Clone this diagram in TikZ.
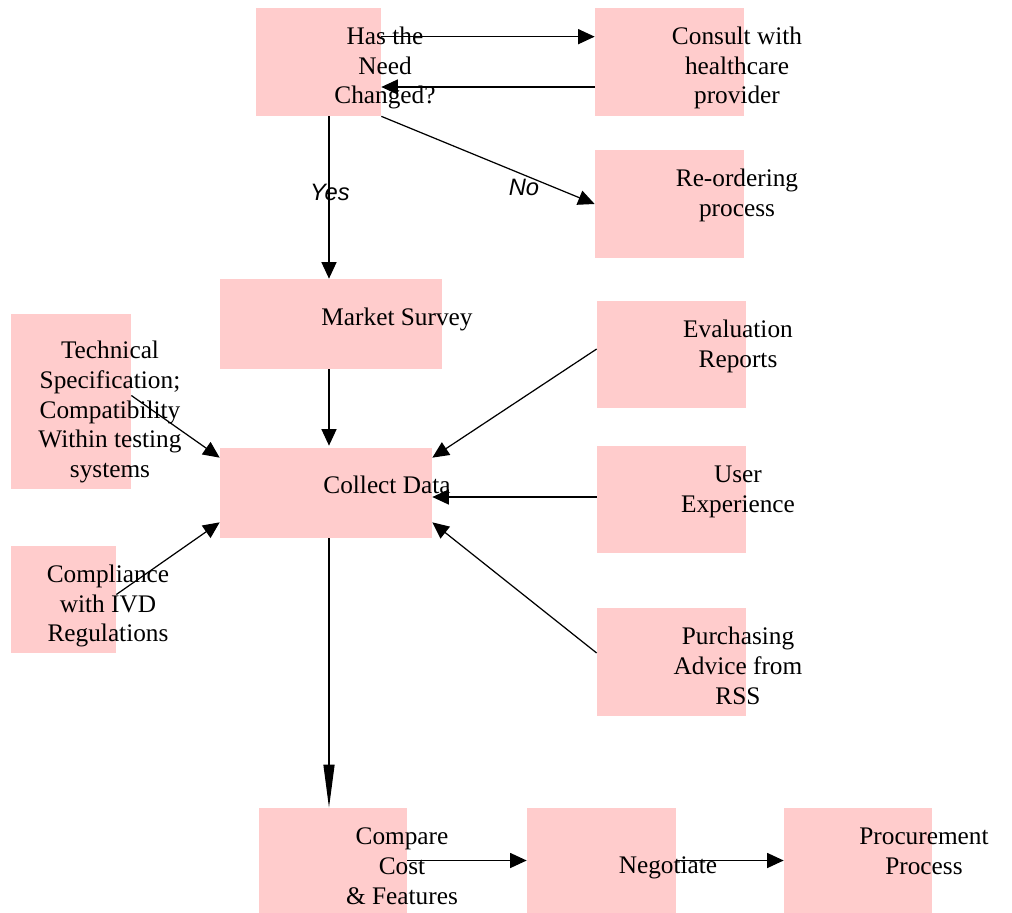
\documentclass[tikz,border=0pt]{standalone}
\usepackage{fontspec}
\setmainfont{Liberation Serif}
\newfontfamily\lblfont{Liberation Sans}
\usepackage{tikz}
\usetikzlibrary{arrows.meta}
\definecolor{boxpink}{RGB}{255,204,204}

\begin{document}
\begin{tikzpicture}[x=0.02cm,y=-0.02cm,
  pbox/.style={rectangle,fill=boxpink,inner sep=0pt},
  txt/.style={align=center,inner sep=0pt,font=\fontsize{14.4}{17}\selectfont},
  lbl/.style={inner sep=0pt,font=\lblfont\itshape\fontsize{13.5}{16}\selectfont},
  arr/.style={-{Triangle[length=0.33cm,width=0.3cm]},line width=0.7pt},
  longarr/.style={-{Triangle[length=0.86cm,width=0.22cm]},line width=0.7pt}]
\useasboundingbox (0,0) rectangle (1012,913);
\node at (318.5,62) [pbox,minimum width=2.5cm,minimum height=2.16cm] (need) {};
\node at (669.5,62) [pbox,minimum width=2.98cm,minimum height=2.16cm] (consult) {};
\node at (669.5,204) [pbox,minimum width=2.98cm,minimum height=2.16cm] (reorder) {};
\node at (331,324) [pbox,minimum width=4.44cm,minimum height=1.8cm] (market) {};
\node at (71,401.5) [pbox,minimum width=2.4cm,minimum height=3.5cm] (tech) {};
\node at (326,493) [pbox,minimum width=4.24cm,minimum height=1.8cm] (collect) {};
\node at (63.5,599.5) [pbox,minimum width=2.1cm,minimum height=2.14cm] (compl) {};
\node at (671.5,354.5) [pbox,minimum width=2.98cm,minimum height=2.14cm] (eval) {};
\node at (671.5,499.5) [pbox,minimum width=2.98cm,minimum height=2.14cm] (user) {};
\node at (671.5,662) [pbox,minimum width=2.98cm,minimum height=2.16cm] (purch) {};
\node at (333,860.5) [pbox,minimum width=2.96cm,minimum height=2.1cm] (compare) {};
\node at (601.5,860.5) [pbox,minimum width=2.98cm,minimum height=2.1cm] (negot) {};
\node at (858,860.5) [pbox,minimum width=2.96cm,minimum height=2.1cm] (procure) {};

\node at (385,68) [txt] (needT) {Has the\\Need\\Changed?};
\node at (737,68) [txt] (consultT) {Consult with\\healthcare\\provider};
\node at (737,195.5) [txt] (reorderT) {Re-ordering\\process};
\node at (397,319) [txt] (marketT) {Market Survey};
\node at (110,412) [txt] (techT) {Technical\\Specification;\\Compatibility\\Within testing\\systems};
\node at (387,485) [txt] (collectT) {Collect Data};
\node at (108,606) [txt] (complT) {Compliance\\with IVD\\Regulations};
\node at (738,346) [txt] (evalT) {Evaluation\\Reports};
\node at (738,492) [txt] (userT) {User\\Experience};
\node at (738,666) [txt] (purchT) {Purchasing\\Advice from\\RSS};
\node at (402,866) [txt] (compareT) {Compare\\Cost\\\& Features};
\node at (668,868) [txt] (negotT) {Negotiate};
\node at (924,851) [txt] (procureT) {Procurement\\Process};

\node at (330,192) [lbl] (yes) {Yes};
\node at (524,187) [lbl] (no) {No};

\draw[arr] ([yshift=-0.58cm]need.north east) -- ([yshift=-0.58cm]consult.north west);
\draw[arr] ([yshift=-0.5cm]consult.west) -- ([yshift=-0.5cm]need.east);
\draw[arr] (need.south east) -- (reorder.west);
\draw[arr] ([xshift=-0.04cm]market.north |- need.south) -- ([xshift=-0.04cm]market.north);
\draw[arr] ([xshift=-0.04cm]market.south) -- ([xshift=-0.04cm,yshift=0.04cm]market.south |- collect.north);
\draw[arr] ([yshift=0.12cm]tech.east) -- ([yshift=-0.2cm]collect.north west);
\draw[arr] ([yshift=0.1cm]compl.east) -- ([yshift=0.32cm]collect.south west);
\draw[arr] ([yshift=0.11cm]eval.west) -- ([yshift=-0.2cm]collect.north east);
\draw[arr] ([yshift=0.05cm]user.west) -- ([yshift=0.05cm]collect.east |- user.west);
\draw[arr] ([yshift=0.18cm]purch.west) -- ([yshift=0.32cm]collect.south east);
\draw[longarr] ([xshift=-0.04cm]market.south |- collect.south) -- ([xshift=-0.04cm]market.south |- compare.north);
\draw[arr] (compare.east) -- (negot.west);
\draw[arr] (negot.east) -- (procure.west);
\end{tikzpicture}
\end{document}
